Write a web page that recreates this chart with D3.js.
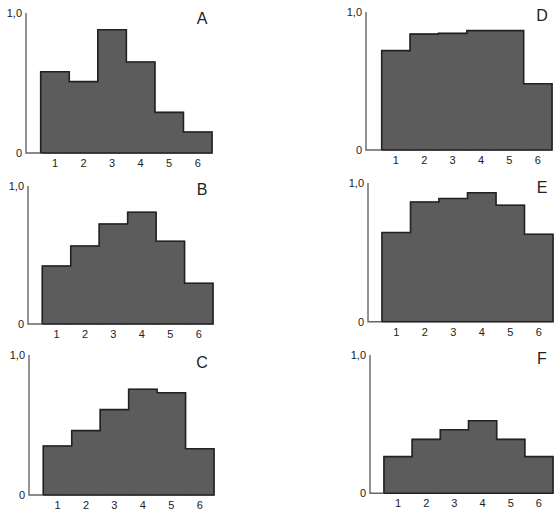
<!DOCTYPE html>
<html><head><meta charset="utf-8">
<script src="https://cdn.jsdelivr.net/npm/d3@7"></script>
<style>body{margin:0;background:#fff}svg{display:block}</style>
</head><body>
<script>
const categories = ["1","2","3","4","5","6"];
const panelNames = ["A","B","C","D","E","F"];
const valuesA = [0.58,0.51,0.88,0.65,0.29,0.15];
const valuesB = [0.42,0.565,0.725,0.81,0.60,0.295];
const valuesC = [0.35,0.46,0.61,0.755,0.73,0.33];
const valuesD = [0.72,0.84,0.845,0.865,0.865,0.48];
const valuesE = [0.643,0.863,0.888,0.93,0.84,0.63];
const valuesF = [0.265,0.39,0.46,0.525,0.39,0.265];
const yTickLabels = ["0","1,0"];
const yTickValues = [0,1];
const series = [valuesA,valuesB,valuesC,valuesD,valuesE,valuesF];

// layout (positions only)
const layout = [
  {ax:26, top:13, base:153, x0:40.7, x1:212, lx:202, ly:18},
  {ax:28, top:186, base:324, x0:42.3, x1:213, lx:202, ly:189},
  {ax:29, top:355, base:495, x0:43.3, x1:214, lx:202, ly:362},
  {ax:366, top:12, base:150, x0:381.7, x1:552, lx:542, ly:15},
  {ax:368, top:183, base:321.7, x0:382, x1:553, lx:542, ly:187},
  {ax:370, top:355, base:493.3, x0:384, x1:553, lx:542, ly:358}
];

const svg = d3.select("body").append("svg").attr("width",555).attr("height",513);
const font = "Liberation Sans, Arial, sans-serif";
const fillCol = "#5c5c5c";

series.forEach((vals,i)=>{
  const L = layout[i];
  const g = svg.append("g");
  const x = d3.scaleBand().domain(categories).range([L.x0,L.x1]).padding(0);
  const y = d3.scaleLinear().domain([0,1]).range([L.base,L.top]);
  const data = categories.map((c,k)=>({c, v:vals[k]}));

  // axis line
  g.append("path")
    .attr("d", d3.line()([[L.ax, y(1)],[L.ax, y(0)],[L.x0, y(0)]]))
    .attr("fill","none").attr("stroke","#666").attr("stroke-width",1.4);

  // bars
  g.selectAll("rect").data(data).join("rect")
    .attr("x", d=>x(d.c)).attr("width", x.bandwidth())
    .attr("y", d=>y(d.v)).attr("height", d=>y(0)-y(d.v))
    .attr("fill",fillCol).attr("stroke",fillCol).attr("stroke-width",1);

  // outline
  const pts = [[x(categories[0]), y(0)]];
  data.forEach(d=>{ pts.push([x(d.c), y(d.v)]); pts.push([x(d.c)+x.bandwidth(), y(d.v)]); });
  pts.push([x(categories[5])+x.bandwidth(), y(0)]);
  pts.push([x(categories[0]), y(0)]);
  g.append("path").attr("d", d3.line()(pts))
    .attr("fill","none").attr("stroke","#222").attr("stroke-width",1.6).attr("stroke-linejoin","miter");

  // y tick labels
  yTickValues.forEach((t,k)=>{
    g.append("text").attr("x", L.ax-4).attr("y", y(t)).attr("dy","0.35em")
      .attr("text-anchor","end").attr("font-family",font).attr("font-size",11)
      .attr("fill","#222").text(yTickLabels[k]);
  });

  // x tick labels
  g.selectAll("text.xl").data(categories).join("text").attr("class","xl")
    .attr("x", c=>x(c)+x.bandwidth()/2).attr("y", y(0)+10).attr("dy","0.35em")
    .attr("text-anchor","middle").attr("font-family",font).attr("font-size",11)
    .attr("fill","#222").text(c=>c);

  // panel letter
  g.append("text").attr("x", L.lx).attr("y", L.ly).attr("dy","0.35em")
    .attr("text-anchor","middle").attr("font-family",font).attr("font-size",16)
    .attr("fill","#222").text(panelNames[i]);
});
</script>
</body></html>
